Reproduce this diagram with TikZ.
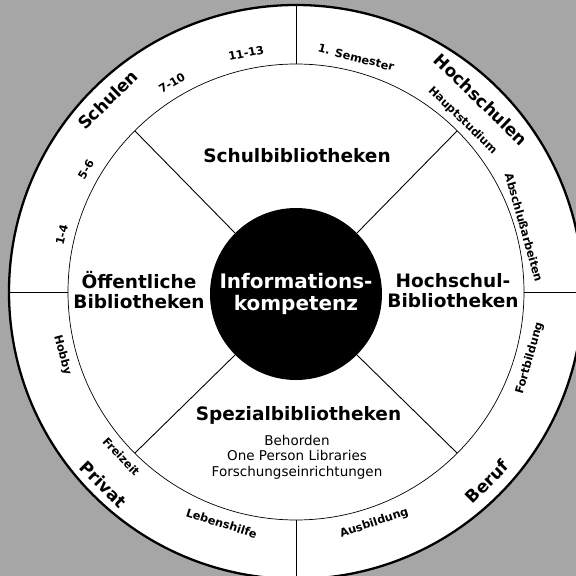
\documentclass[tikz,border=0pt]{standalone}
\usepackage{fontspec}
\setmainfont{DejaVu Sans}
\begin{document}
\begin{tikzpicture}[x=1pt,y=1pt,
  big/.style={font=\fontsize{18.5}{20}\selectfont\bfseries, inner sep=0pt, align=center},
  ringlbl/.style={font=\fontsize{17}{19}\selectfont\bfseries, inner sep=0pt},
  small/.style={font=\fontsize{11.3}{13}\selectfont\bfseries, inner sep=0pt},
  sub/.style={font=\fontsize{13.5}{15.5}\selectfont, inner sep=0pt, align=center},
  divider/.style={line width=0.9pt},
  core/.style={circle, fill=black, minimum size=172pt, inner sep=0pt, text=white,
    font=\fontsize{20}{22}\selectfont\bfseries, align=center}]
\useasboundingbox (-296,-284) rectangle (280,292);
\fill[black!35] (-296,-284) rectangle (280,292);
\path[fill=white, draw=black, line width=2.3pt] (0,0) circle (287);
\draw[line width=0.7pt] (0,0) circle (228);
% centre
\node[core] (info) at (0,-2) {Informations-\\kompetenz};
% ring coordinates
\foreach \a in {0,90,180,270} {
  \coordinate (in\a) at (\a:228);
  \coordinate (out\a) at (\a:287);
}
\foreach \a in {45,135,225,315} {
  \coordinate (in\a) at (\a:228);
}
\foreach \a in {0,90,180,270} { \draw[divider] (in\a) -- (out\a); }
\foreach \a in {45,135,225,315} { \draw[divider] (info.\a) -- (in\a); }
% sector labels
\node[big, anchor=base] (schul) at (1,129) {Schulbibliotheken};
\node[big] (oeff) at (-157,2) {Öffentliche\\Bibliotheken};
\node[big] (hoch) at (157,1) {Hochschul-\\Bibliotheken};
\node[big, anchor=base] (spez) at (2.5,-128) {Spezialbibliotheken};
\node[sub] (spezsub) at (1,-165) {Behorden\\One Person Libraries\\Forschungseinrichtungen};
% ring main labels
\node[ringlbl, rotate=44.4] (schulen) at (134.4:269) {Schulen};
\node[ringlbl, rotate=-43.9] (hochschulen) at (46.1:267) {Hochschulen};
\node[ringlbl, rotate=-45] (privat) at (225:272) {Privat};
\node[ringlbl, rotate=45.2] (beruf) at (-44.8:269) {Beruf};
% ring small labels
\node[small, rotate=11.8] (l1113) at (101.8:244) {11-13};
\node[small, rotate=30.7] (l710) at (120.7:243) {7-10};
\node[small, rotate=59.8] (l56) at (149.8:243) {5-6};
\node[small, rotate=76.3] (l14) at (166.3:241) {1-4};
\node[small, rotate=-14.4] (lsem) at (75.6:242) {1. Semester};
\node[small, rotate=-44.2] (lhaupt) at (45.8:239) {Hauptstudium};
\node[small, rotate=-74.2] (labsch) at (15.8:237) {Abschlußarbeiten};
\node[small, rotate=74.2] (lfort) at (-15.8:243) {Fortbildung};
\node[small, rotate=18.7] (lausb) at (-71.3:244) {Ausbildung};
\node[small, rotate=-17.8] (lleben) at (-107.8:243) {Lebenshilfe};
\node[small, rotate=-46.7] (lfrei) at (-136.7:240) {Freizeit};
\node[small, rotate=-74.9] (lhobby) at (-164.9:242) {Hobby};
\end{tikzpicture}
\end{document}
